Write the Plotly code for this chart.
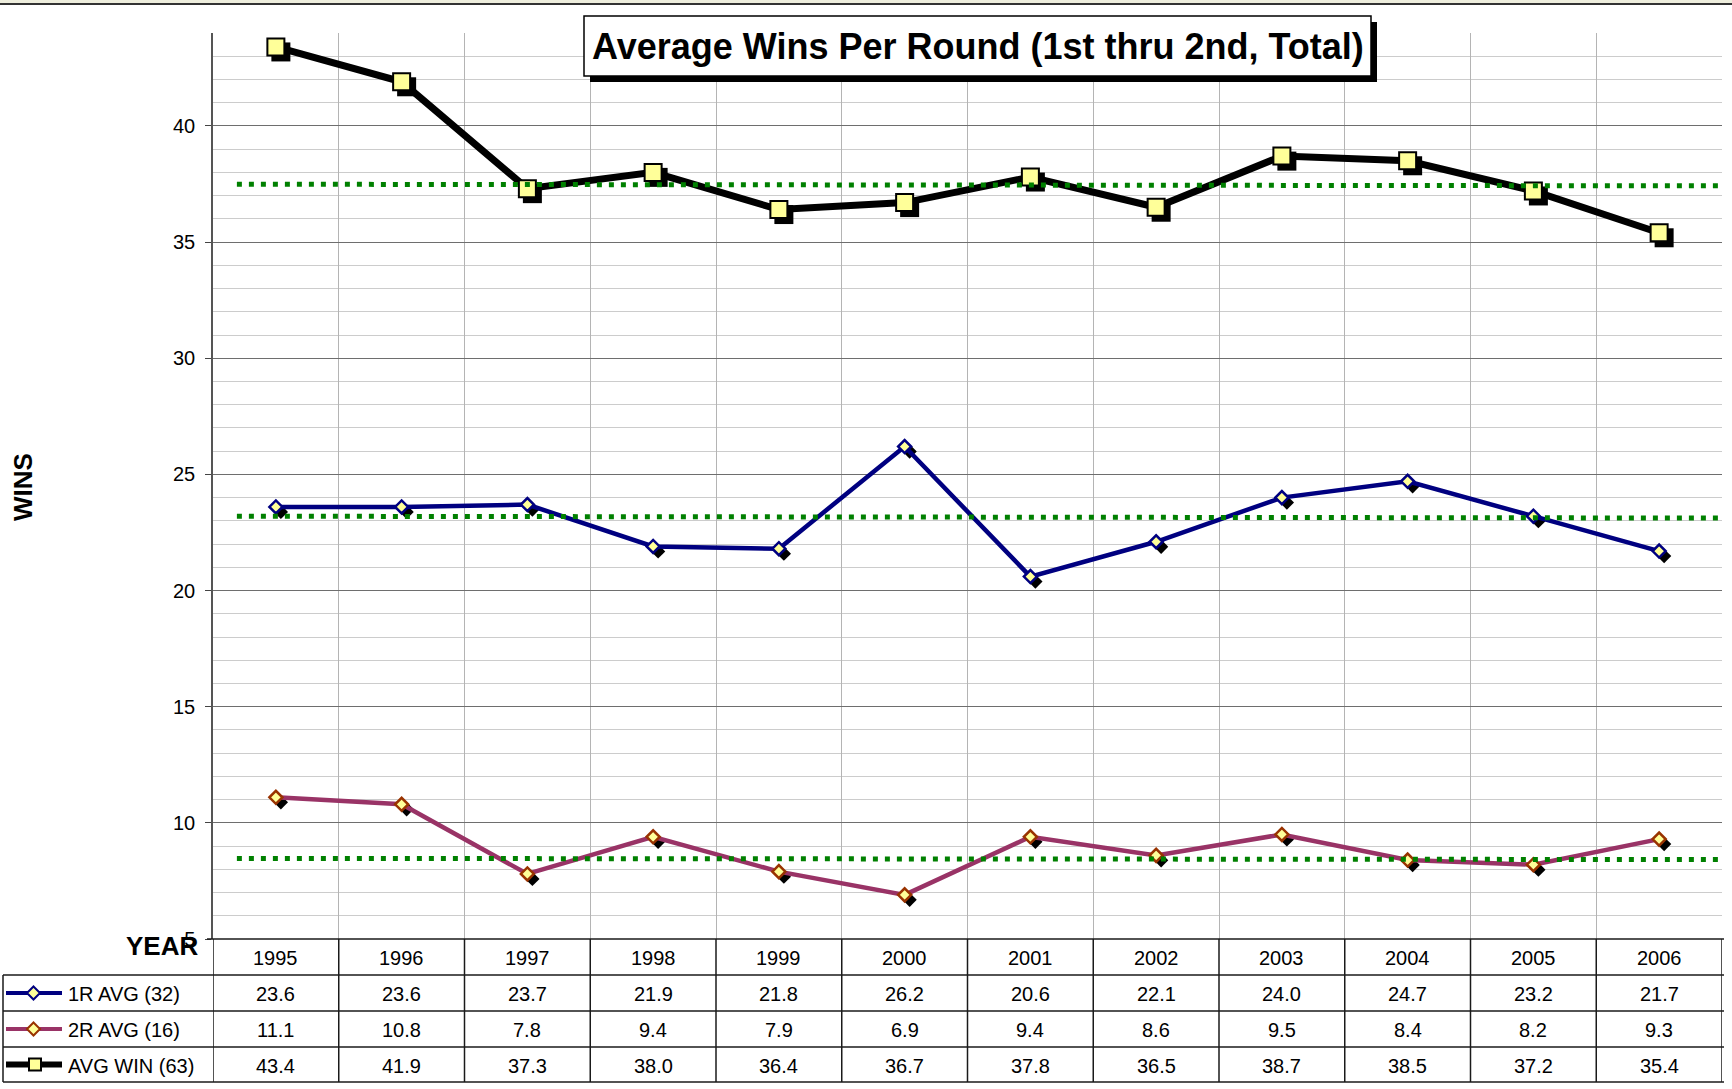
import plotly.graph_objects as go

# ---------------- data ----------------
years = ["1995", "1996", "1997", "1998", "1999", "2000",
         "2001", "2002", "2003", "2004", "2005", "2006"]
r1_avg = [23.6, 23.6, 23.7, 21.9, 21.8, 26.2, 20.6, 22.1, 24.0, 24.7, 23.2, 21.7]
r2_avg = [11.1, 10.8, 7.8, 9.4, 7.9, 6.9, 9.4, 8.6, 9.5, 8.4, 8.2, 9.3]
avg_win = [43.4, 41.9, 37.3, 38.0, 36.4, 36.7, 37.8, 36.5, 38.7, 38.5, 37.2, 35.4]
series_names = ["1R AVG (32)", "2R AVG (16)", "AVG WIN (63)"]
# reference (dotted) lines: value at left end, value at right end
ref_win = [37.49, 37.42]
ref_r1 = [23.2, 23.12]
ref_r2 = [8.47, 8.42]
y_ticks = [5, 10, 15, 20, 25, 30, 35, 40]

# ---------------- geometry ----------------
W, H = 1732, 1089
L, R, T, B = 213, 1722, 33, 939
PW, PH = R - L, B - T
YMIN, YMAX = 5, 44
n = len(years)
xs = list(range(n))
XMIN, XMAX = -0.5, n - 0.5


def px(xp):
    return (xp - L) / PW


def py(yp):
    return (B - yp) / PH


# shadow offset (pixels -> data units)
SH = 5
dx = SH * (XMAX - XMIN) / PW
dy = -SH * (YMAX - YMIN) / PH

FONT = "Liberation Sans, Arial, sans-serif"
YEL = "#FFFF99"
NAVY = "#000080"
PLUM = "#993366"
BROWN = "#993300"
GREEN = "#008000"

fig = go.Figure()

# shadows
fig.add_trace(go.Scatter(x=[v + dx for v in xs], y=[v + dy for v in avg_win], mode="markers",
                         marker=dict(symbol="square", size=19, color="black"), hoverinfo="skip"))
fig.add_trace(go.Scatter(x=[v + dx for v in xs], y=[v + dy for v in r1_avg], mode="markers",
                         marker=dict(symbol="diamond", size=11, color="black"), hoverinfo="skip"))
fig.add_trace(go.Scatter(x=[v + dx for v in xs], y=[v + dy for v in r2_avg], mode="markers",
                         marker=dict(symbol="diamond", size=11, color="black"), hoverinfo="skip"))

# series
fig.add_trace(go.Scatter(x=xs, y=avg_win, mode="lines+markers", name=series_names[2],
                         line=dict(color="black", width=7),
                         marker=dict(symbol="square", size=17, color=YEL,
                                     line=dict(color="black", width=2))))
fig.add_trace(go.Scatter(x=xs, y=r1_avg, mode="lines+markers", name=series_names[0],
                         line=dict(color=NAVY, width=4.5),
                         marker=dict(symbol="diamond", size=10, color=YEL,
                                     line=dict(color=NAVY, width=2.5))))
fig.add_trace(go.Scatter(x=xs, y=r2_avg, mode="lines+markers", name=series_names[1],
                         line=dict(color=PLUM, width=4.5),
                         marker=dict(symbol="diamond", size=10, color=YEL,
                                     line=dict(color=BROWN, width=2.5))))

# dotted reference lines (on top)
for ref in (ref_win, ref_r1, ref_r2):
    fig.add_trace(go.Scatter(x=[-0.31, XMAX], y=ref, mode="lines",
                             line=dict(color=GREEN, width=5, dash="5px,7px"), hoverinfo="skip"))

shapes = []
annotations = []

# top strip
shapes.append(dict(type="rect", xref="paper", yref="paper", x0=px(0), x1=px(W), y0=py(0), y1=py(3.5),
                   fillcolor="#eeeedd", line=dict(width=0), layer="below"))
shapes.append(dict(type="line", xref="paper", yref="paper", x0=px(0), x1=px(W), y0=py(4), y1=py(4),
                   line=dict(color="#333333", width=2)))

# title box with shadow
tx0, tx1, ty0, ty1 = 584, 1371, 16, 76
shapes.append(dict(type="rect", xref="paper", yref="paper", x0=px(tx0 + 6), x1=px(tx1 + 6),
                   y0=py(ty0 + 6), y1=py(ty1 + 6), fillcolor="black", line=dict(width=0), layer="above"))
shapes.append(dict(type="rect", xref="paper", yref="paper", x0=px(tx0), x1=px(tx1),
                   y0=py(ty0), y1=py(ty1), fillcolor="white", line=dict(color="black", width=1.5),
                   layer="above"))
annotations.append(dict(text="<b>Average Wins Per Round (1st thru 2nd, Total)</b>", xref="paper", yref="paper",
                        x=px((tx0 + tx1) / 2), y=py((ty0 + ty1) / 2 + 1), showarrow=False,
                        xanchor="center", yanchor="middle", font=dict(family=FONT, size=36, color="black")))

# axis titles
annotations.append(dict(text="<b>WINS</b>", xref="paper", yref="paper", x=px(23), y=py(487),
                        textangle=-90, showarrow=False, xanchor="center", yanchor="middle",
                        font=dict(family=FONT, size=26, color="black")))
annotations.append(dict(text="<b>YEAR</b>", xref="paper", yref="paper", x=px(200), y=py(946),
                        showarrow=False, xanchor="right", yanchor="middle",
                        font=dict(family=FONT, size=26, color="black")))

# data table
LINEC = "#1a1a1a"
rows_y = [939, 975, 1011, 1047, 1082]
shapes.append(dict(type="line", xref="paper", yref="paper", x0=px(207), x1=px(1724), y0=py(939), y1=py(939),
                   line=dict(color=LINEC, width=1.5)))
for ry in rows_y[1:]:
    shapes.append(dict(type="line", xref="paper", yref="paper", x0=px(3), x1=px(1724), y0=py(ry), y1=py(ry),
                       line=dict(color=LINEC, width=1.5)))
shapes.append(dict(type="line", xref="paper", yref="paper", x0=px(3), x1=px(3), y0=py(975), y1=py(1082),
                   line=dict(color=LINEC, width=1.5)))
for k in range(n + 1):
    shapes.append(dict(type="line", xref="x", yref="paper", x0=k - 0.5, x1=k - 0.5, y0=py(939), y1=py(1082),
                       line=dict(color=LINEC, width=1.5)))

centers = [(rows_y[i] + rows_y[i + 1]) / 2 + 1 for i in range(4)]
for i, yr in enumerate(years):
    annotations.append(dict(text=yr, xref="x", yref="paper", x=xs[i], y=py(centers[0]), showarrow=False,
                            xanchor="center", yanchor="middle",
                            font=dict(family=FONT, size=20, color="black")))
for r, vals in enumerate([r1_avg, r2_avg, avg_win]):
    for i, v in enumerate(vals):
        annotations.append(dict(text=f"{v:.1f}", xref="x", yref="paper", x=xs[i], y=py(centers[r + 1]),
                                showarrow=False, xanchor="center", yanchor="middle",
                                font=dict(family=FONT, size=20, color="black")))

# legend keys in table
key_styles = [(NAVY, 4, "diamond", NAVY), (PLUM, 4, "diamond", BROWN), ("black", 6, "square", "black")]
for r, (lc, lw, sym, mc) in enumerate(key_styles):
    cy = centers[r + 1] - 1
    shapes.append(dict(type="line", xref="paper", yref="paper", x0=px(6), x1=px(62), y0=py(cy), y1=py(cy),
                       line=dict(color=lc, width=lw)))
    if sym == "diamond":
        cx, h = 33.5, 6.5
        path = (f"M {px(cx)} {py(cy - h)} L {px(cx + h)} {py(cy)} L {px(cx)} {py(cy + h)} "
                f"L {px(cx - h)} {py(cy)} Z")
        shapes.append(dict(type="path", xref="paper", yref="paper", path=path, fillcolor=YEL,
                           line=dict(color=mc, width=2)))
    else:
        cx, h = 35, 6
        shapes.append(dict(type="rect", xref="paper", yref="paper", x0=px(cx - h), x1=px(cx + h),
                           y0=py(cy - h), y1=py(cy + h), fillcolor=YEL, line=dict(color="black", width=2)))
    annotations.append(dict(text=series_names[r], xref="paper", yref="paper", x=px(66), y=py(cy + 1),
                            showarrow=False, xanchor="left", yanchor="middle",
                            font=dict(family=FONT, size=20, color="black")))

fig.update_layout(
    width=W, height=H,
    margin=dict(l=L, r=W - R, t=T, b=H - B, pad=0),
    paper_bgcolor="white", plot_bgcolor="white",
    showlegend=False,
    hovermode=False,
    shapes=shapes,
    annotations=annotations,
    xaxis=dict(range=[XMIN, XMAX], tickvals=[k - 0.5 for k in range(n + 1)], showticklabels=False,
               showgrid=True, gridcolor="#b4b4b4", gridwidth=1, zeroline=False, ticks="", showline=False,
               fixedrange=True),
    yaxis=dict(range=[YMIN, YMAX], tickvals=y_ticks, ticks="outside", ticklen=6, tickcolor="#444444",
               ticklabelstandoff=6,
               tickfont=dict(family=FONT, size=20, color="black"), showgrid=True, gridcolor="#6e6e6e",
               gridwidth=1, zeroline=False, showline=True, linecolor="#555555", linewidth=1.5,
               minor=dict(dtick=1, showgrid=True, gridcolor="#cccccc", gridwidth=1, ticks=""),
               fixedrange=True),
)

fig.write_html("out.html", config={"displayModeBar": False},
               post_script="document.body.style.margin='0px';document.body.style.overflow='hidden';")
